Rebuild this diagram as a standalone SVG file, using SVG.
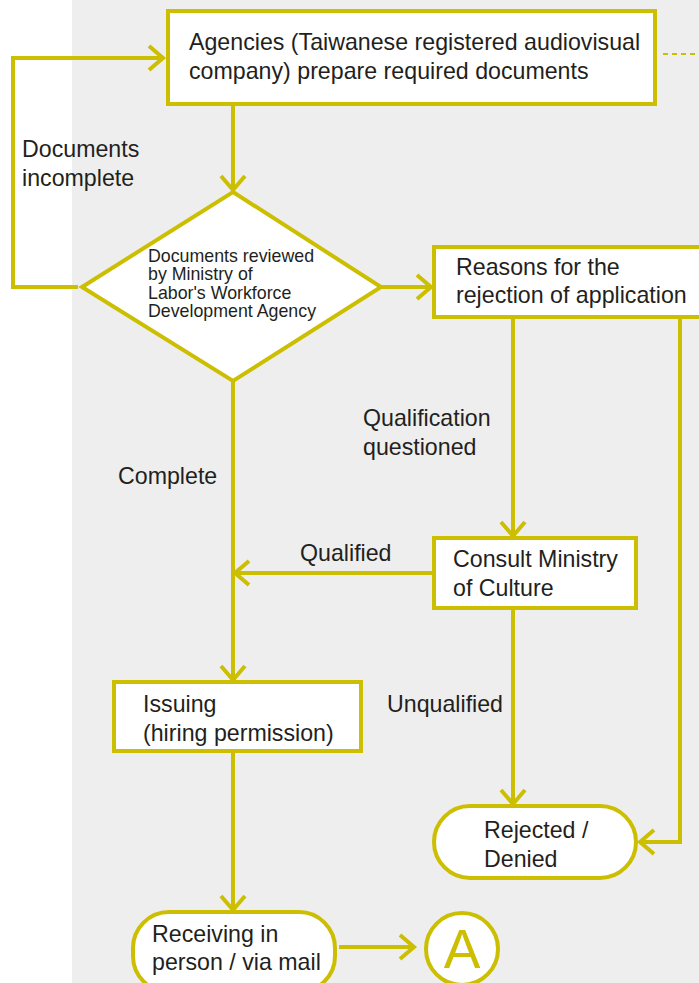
<svg xmlns="http://www.w3.org/2000/svg" width="699" height="983" viewBox="0 0 699 983">
  <style>
    .shape { fill: #ffffff; stroke: #ccbe00; stroke-width: 4; }
    .link { fill: none; stroke: #ccbe00; stroke-width: 4; }
    .txt { font-family: "Liberation Sans", Arial, sans-serif; font-size: 23.2px; fill: #231f20; }
    .small { font-size: 17.8px; }
  </style>
  <defs>
    <marker id="arrow" markerUnits="userSpaceOnUse" markerWidth="30" markerHeight="30" viewBox="-20 -15 24 30" refX="0" refY="0" orient="auto">
      <path d="M-14,-12 L0,0 L-14,12" fill="none" stroke="#ccbe00" stroke-width="4"/>
    </marker>
  </defs>

  <!-- page background -->
  <rect x="0" y="0" width="699" height="983" fill="#ffffff"/>
  <rect x="72" y="0" width="627" height="983" fill="#eeeeee"/>

  <!-- connectors -->
  <g id="connectors">
    <polyline class="link" points="78,287 13,287 13,58 163,58" marker-end="url(#arrow)"/>
    <line class="link" x1="233" y1="104" x2="233" y2="190" marker-end="url(#arrow)"/>
    <line class="link" x1="381" y1="287" x2="431" y2="287" marker-end="url(#arrow)"/>
    <line class="link" x1="513" y1="317" x2="513" y2="536" marker-end="url(#arrow)"/>
    <polyline class="link" points="680,317 680,842 640,842" marker-end="url(#arrow)"/>
    <line class="link" x1="434" y1="573" x2="235" y2="573" marker-end="url(#arrow)"/>
    <line class="link" x1="233" y1="381" x2="233" y2="680" marker-end="url(#arrow)"/>
    <line class="link" x1="233" y1="751" x2="233" y2="910" marker-end="url(#arrow)"/>
    <line class="link" x1="339" y1="947" x2="414" y2="947" marker-end="url(#arrow)"/>
    <line class="link" x1="513" y1="608" x2="513" y2="804" marker-end="url(#arrow)"/>
    <line x1="663" y1="54" x2="699" y2="54" stroke="#ccbe00" stroke-width="2" stroke-dasharray="5 4"/>
  </g>

  <!-- connector labels -->
  <g id="labels" class="txt">
    <text x="22" y="157">Documents</text>
    <text x="22" y="186">incomplete</text>
    <text x="118" y="484">Complete</text>
    <text x="363" y="426">Qualification</text>
    <text x="363" y="455">questioned</text>
    <text x="300" y="561">Qualified</text>
    <text x="387" y="712">Unqualified</text>
  </g>

  <g id="prepare">
    <rect class="shape" x="168" y="11" width="487" height="93"/>
    <text class="txt" x="189" y="50">Agencies (Taiwanese registered audiovisual</text>
    <text class="txt" x="189" y="79">company) prepare required documents</text>
  </g>

  <g id="review">
    <polygon class="shape" points="233,192 381,287 233,381 82,287"/>
    <text class="txt small" x="148" y="262">Documents reviewed</text>
    <text class="txt small" x="148" y="280">by Ministry of</text>
    <text class="txt small" x="148" y="298.5">Labor's Workforce</text>
    <text class="txt small" x="148" y="317">Development Agency</text>
  </g>

  <g id="reasons">
    <rect class="shape" x="434" y="247" width="280" height="70"/>
    <text class="txt" x="456" y="275">Reasons for the</text>
    <text class="txt" x="456" y="303">rejection of application</text>
  </g>

  <g id="consult">
    <rect class="shape" x="434" y="538" width="202" height="70"/>
    <text class="txt" x="453" y="567">Consult Ministry</text>
    <text class="txt" x="453" y="596">of Culture</text>
  </g>

  <g id="issuing">
    <rect class="shape" x="114" y="682" width="247" height="69"/>
    <text class="txt" x="143" y="712">Issuing</text>
    <text class="txt" x="143" y="741">(hiring permission)</text>
  </g>

  <g id="rejected">
    <rect class="shape" x="434" y="806" width="202" height="72" rx="36" ry="36"/>
    <text class="txt" x="484" y="838">Rejected /</text>
    <text class="txt" x="484" y="867">Denied</text>
  </g>

  <g id="receiving">
    <rect class="shape" x="133" y="912" width="202" height="80" rx="36" ry="36"/>
    <text class="txt" x="152" y="942">Receiving in</text>
    <text class="txt" x="152" y="970">person / via mail</text>
  </g>

  <g id="connector-a">
    <circle class="shape" cx="462" cy="949" r="36"/>
    <text x="462" y="968" text-anchor="middle" font-family="Liberation Sans, Arial, sans-serif" font-size="55" fill="#ccbe00">A</text>
  </g>
</svg>
